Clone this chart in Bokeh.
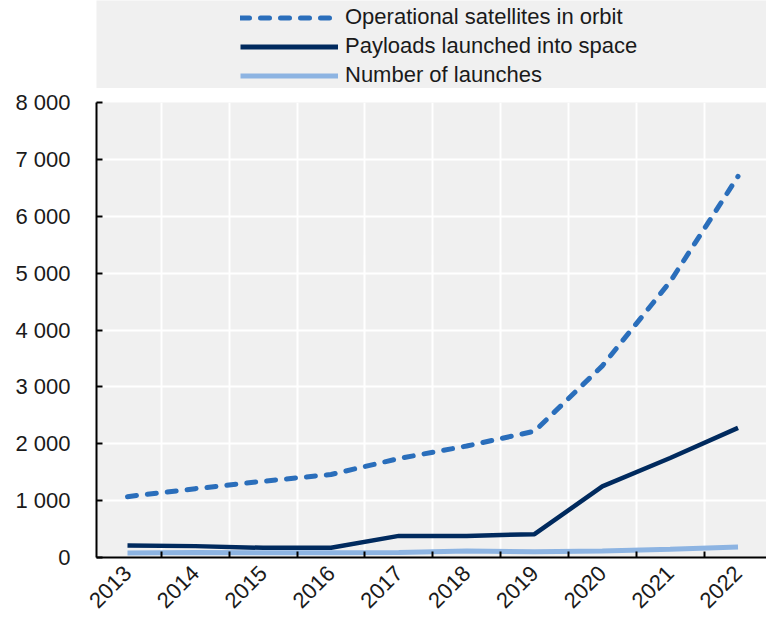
from math import pi
from bokeh.plotting import figure
from bokeh.models import Range1d, FixedTicker, Legend, LegendItem
from bokeh.layouts import column
from bokeh.embed import file_html
from bokeh.resources import INLINE

years = [2013, 2014, 2015, 2016, 2017, 2018, 2019, 2020, 2021, 2022]
satellites = [1070, 1210, 1340, 1460, 1740, 1960, 2220, 3370, 4850, 6700]
payloads = [210, 200, 170, 170, 380, 380, 410, 1250, 1750, 2280]
launches = [80, 90, 85, 85, 90, 115, 100, 115, 145, 185]
series_names = ["Operational satellites in orbit",
                "Payloads launched into space",
                "Number of launches"]
y_ticks = [0, 1000, 2000, 3000, 4000, 5000, 6000, 7000, 8000]
y_tick_labels = ["0", "1 000", "2 000", "3 000", "4 000", "5 000", "6 000", "7 000", "8 000"]
x_boundaries = [2013.5, 2014.5, 2015.5, 2016.5, 2017.5, 2018.5, 2019.5, 2020.5, 2021.5]

C_SAT = "#2A6EBB"
C_PAY = "#002A5E"
C_LAU = "#8DB4E2"
BG = "#F0F0F0"
FONT = "Liberation Sans"
TXT = "#1a1a1a"
DASH = "9 11"

# ---------- legend strip (series drawn out of its visible range; only the legend shows) ----------
pl = figure(width=766, height=88, output_backend="svg", toolbar_location=None,
            x_range=Range1d(0, 1), y_range=Range1d(-1, 0),
            x_axis_type=None, y_axis_type=None,
            min_border_left=96, min_border_right=0, min_border_top=0, min_border_bottom=0)
pl.background_fill_color = BG
pl.border_fill_color = "white"
pl.outline_line_color = None
pl.grid.visible = False
r1 = pl.line(years, satellites, line_color=C_SAT, line_width=5, line_dash=DASH, line_cap="round")
r2 = pl.line(years, payloads, line_color=C_PAY, line_width=5)
r3 = pl.line(years, launches, line_color=C_LAU, line_width=5)
leg = Legend(items=[LegendItem(label=series_names[0], renderers=[r1]),
                    LegendItem(label=series_names[1], renderers=[r2]),
                    LegendItem(label=series_names[2], renderers=[r3])],
             location=(144, 0), orientation="vertical")
leg.padding = 0
leg.margin = 0
leg.spacing = 3
leg.glyph_width = 98
leg.glyph_height = 25
leg.label_height = 25
leg.label_standoff = 7
leg.label_text_font = FONT
leg.label_text_font_size = "22px"
leg.label_text_color = TXT
leg.background_fill_alpha = 0
leg.border_line_color = None
pl.add_layout(leg)

# ---------- main chart ----------
p = figure(width=766, height=530, output_backend="svg", toolbar_location=None,
           x_range=Range1d(2012.543, 2022.42), y_range=Range1d(0, 8000),
           min_border_left=96, min_border_right=0, min_border_top=14, min_border_bottom=61)
p.background_fill_color = BG
p.border_fill_color = "white"
p.outline_line_color = None

p.line(years, launches, line_color=C_LAU, line_width=5)
p.line(years, payloads, line_color=C_PAY, line_width=4.5)
p.line(years, satellites, line_color=C_SAT, line_width=5, line_dash=DASH, line_cap="round")

p.xgrid.ticker = FixedTicker(ticks=x_boundaries)
p.ygrid.ticker = FixedTicker(ticks=y_ticks)
p.grid.grid_line_color = "white"
p.grid.grid_line_width = 2

p.xaxis.ticker = FixedTicker(ticks=years, minor_ticks=x_boundaries)
p.xaxis.major_label_overrides = {y: str(y) for y in years}
p.xaxis.major_tick_in = 0
p.xaxis.major_tick_out = 0
p.xaxis.minor_tick_in = 6
p.xaxis.minor_tick_out = 0
p.xaxis.minor_tick_line_color = "black"
p.xaxis.minor_tick_line_width = 2
p.xaxis.major_label_orientation = pi / 4
p.xaxis.major_label_standoff = 12

p.yaxis.ticker = FixedTicker(ticks=y_ticks)
p.yaxis.major_label_overrides = dict(zip(y_ticks, y_tick_labels))
p.yaxis.major_tick_in = 6
p.yaxis.major_tick_out = 0
p.yaxis.minor_tick_line_color = None
p.yaxis.major_label_standoff = 26

for ax in (p.xaxis, p.yaxis):
    ax.axis_line_color = "black"
    ax.axis_line_width = 2
    ax.major_tick_line_color = "black"
    ax.major_tick_line_width = 2
    ax.major_label_text_font = FONT
    ax.major_label_text_font_size = "22px"
    ax.major_label_text_color = TXT

layout = column(pl, p, spacing=0)
open("out.html", "w").write(file_html(layout, INLINE))
